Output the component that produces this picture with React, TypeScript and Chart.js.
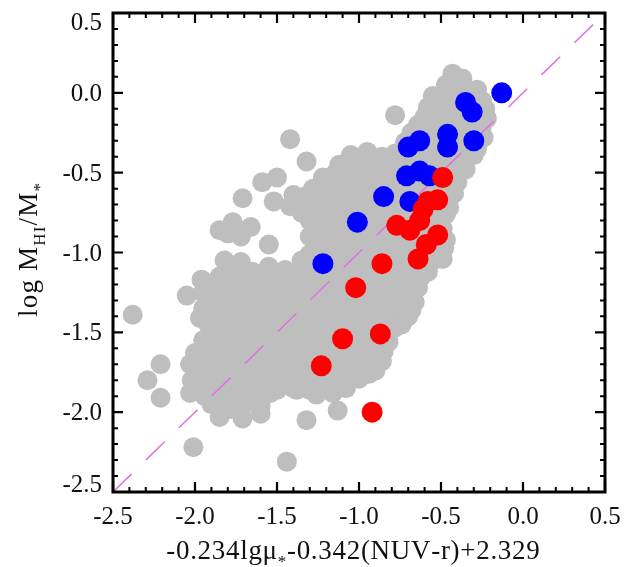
import React, { useEffect, useRef } from 'react';
import { Chart, registerables } from 'chart.js';

Chart.register(...registerables);

// Axis range and tick marks (both axes share the same range)
const AXIS_MIN = -2.5;
const AXIS_MAX = 0.5;
const MAJOR_TICKS = [-2.5, -2.0, -1.5, -1.0, -0.5, 0.0, 0.5];
const TICK_LABELS = ['-2.5', '-2.0', '-1.5', '-1.0', '-0.5', '0.0', '0.5'];
const MINOR_TICKS = [
  -2.4, -2.3, -2.2, -2.1, -1.9, -1.8, -1.7, -1.6, -1.4, -1.3, -1.2, -1.1,
  -0.9, -0.8, -0.7, -0.6, -0.4, -0.3, -0.2, -0.1, 0.1, 0.2, 0.3, 0.4,
];

// One-to-one reference line
const ONE_TO_ONE: [number, number][] = [[-2.5, -2.5], [0.5, 0.5]];

// Full comparison sample: [estimator, log MHI/M*]
const GRAY_POINTS: [number, number][] = [
  [-0.43, 0.12], [-0.37, 0.09], [-0.47, 0.05], [-0.28, 0.02],
  [-0.55, -0.02], [-0.45, 0.0], [-0.36, -0.01],
  [-0.53, -0.05], [-0.43, -0.05], [-0.33, -0.06], [-0.25, -0.05],
  [-0.78, -0.14], [-0.58, -0.09], [-0.49, -0.11], [-0.4, -0.08], [-0.3, -0.12], [-0.23, -0.1],
  [-0.6, -0.15], [-0.5, -0.16], [-0.4, -0.14], [-0.3, -0.15], [-0.22, -0.16],
  [-0.64, -0.2], [-0.54, -0.19], [-0.44, -0.21], [-0.35, -0.19], [-0.25, -0.21],
  [-0.68, -0.25], [-0.58, -0.24], [-0.48, -0.26], [-0.38, -0.25], [-0.28, -0.24],
  [-1.42, -0.29], [-0.72, -0.31], [-0.62, -0.29], [-0.52, -0.3], [-0.42, -0.31], [-0.32, -0.3], [-0.24, -0.28],
  [-0.68, -0.35], [-0.58, -0.36], [-0.48, -0.35], [-0.38, -0.34], [-0.28, -0.35],
  [-1.05, -0.39], [-0.95, -0.37], [-0.86, -0.4], [-0.78, -0.38],
  [-1.32, -0.43], [-1.12, -0.45], [-1.0, -0.43], [-0.9, -0.45], [-0.8, -0.44], [-0.7, -0.42],
  [-0.6, -0.4], [-0.5, -0.41], [-0.4, -0.4], [-0.3, -0.39],
  [-1.06, -0.46], [-0.96, -0.47], [-0.86, -0.46], [-0.76, -0.45], [-0.66, -0.46], [-0.56, -0.45],
  [-0.46, -0.46], [-0.36, -0.44],
  [-1.59, -0.56], [-1.5, -0.53], [-1.22, -0.53], [-1.14, -0.5], [-1.04, -0.52], [-0.94, -0.5],
  [-0.84, -0.52], [-0.74, -0.5], [-0.64, -0.51], [-0.54, -0.5], [-0.44, -0.49], [-0.35, -0.48],
  [-1.18, -0.56], [-1.08, -0.55], [-0.98, -0.56], [-0.88, -0.55], [-0.78, -0.56], [-0.68, -0.55],
  [-0.58, -0.56], [-0.48, -0.55], [-0.4, -0.56],
  [-1.71, -0.66], [-1.4, -0.64], [-1.28, -0.6], [-1.18, -0.62], [-1.08, -0.6], [-0.98, -0.61],
  [-0.88, -0.59], [-0.78, -0.61], [-0.68, -0.6], [-0.58, -0.62], [-0.48, -0.6], [-0.42, -0.63],
  [-1.33, -0.65], [-1.23, -0.66], [-1.13, -0.65], [-1.03, -0.66], [-0.93, -0.65], [-0.83, -0.66],
  [-0.73, -0.65], [-0.63, -0.66], [-0.53, -0.65], [-0.45, -0.66],
  [-1.52, -0.68], [-1.42, -0.71], [-1.33, -0.7], [-1.23, -0.72], [-1.13, -0.7], [-1.03, -0.71],
  [-0.93, -0.7], [-0.83, -0.72], [-0.73, -0.7], [-0.63, -0.71], [-0.53, -0.7], [-0.45, -0.72],
  [-1.35, -0.75], [-1.25, -0.76], [-1.15, -0.75], [-1.05, -0.76], [-0.95, -0.75], [-0.85, -0.76],
  [-0.75, -0.75], [-0.65, -0.76], [-0.55, -0.75], [-0.47, -0.76],
  [-1.77, -0.81], [-1.85, -0.86], [-1.66, -0.84], [-1.3, -0.8], [-1.2, -0.79], [-1.1, -0.81],
  [-1.0, -0.79], [-0.9, -0.81], [-0.8, -0.8], [-0.7, -0.79], [-0.6, -0.81], [-0.5, -0.8],
  [-1.76, -0.85], [-1.27, -0.85], [-1.17, -0.86], [-1.07, -0.85], [-0.97, -0.86], [-0.87, -0.85],
  [-0.77, -0.86], [-0.67, -0.85], [-0.57, -0.86], [-0.49, -0.85],
  [-1.8, -0.88], [-1.72, -0.9], [-1.55, -0.95], [-1.3, -0.9], [-1.22, -0.91], [-1.15, -0.89],
  [-1.05, -0.9], [-0.95, -0.91], [-0.85, -0.89], [-0.75, -0.9], [-0.65, -0.91], [-0.55, -0.89], [-0.47, -0.92],
  [-1.25, -0.95], [-1.15, -0.96], [-1.05, -0.95], [-0.95, -0.96], [-0.85, -0.95], [-0.75, -0.96],
  [-0.65, -0.95], [-0.55, -0.96], [-0.48, -0.97],
  [-1.82, -1.05], [-1.3, -1.01], [-1.2, -0.99], [-1.1, -1.0], [-1.0, -1.01], [-0.9, -0.99],
  [-0.8, -1.0], [-0.7, -1.01], [-0.6, -0.99], [-0.49, -1.04],
  [-1.72, -1.06], [-1.35, -1.05], [-1.25, -1.06], [-1.15, -1.05], [-1.05, -1.06], [-0.95, -1.05],
  [-0.85, -1.06], [-0.75, -1.05], [-0.65, -1.06], [-0.55, -1.05],
  [-1.96, -1.17], [-1.75, -1.1], [-1.65, -1.12], [-1.55, -1.09], [-1.45, -1.11], [-1.35, -1.1],
  [-1.25, -1.12], [-1.15, -1.1], [-1.05, -1.11], [-0.95, -1.09], [-0.85, -1.11], [-0.75, -1.1],
  [-0.65, -1.09], [-0.58, -1.12],
  [-1.85, -1.15], [-1.7, -1.16], [-1.6, -1.15], [-1.5, -1.16], [-1.4, -1.15], [-1.3, -1.16],
  [-1.2, -1.15], [-1.1, -1.16], [-1.0, -1.15], [-0.9, -1.16], [-0.8, -1.15], [-0.7, -1.16], [-0.62, -1.15],
  [-1.88, -1.2], [-1.8, -1.21], [-1.7, -1.19], [-1.6, -1.21], [-1.5, -1.2], [-1.4, -1.19],
  [-1.3, -1.21], [-1.2, -1.2], [-1.1, -1.19], [-0.9, -1.21], [-0.8, -1.2], [-0.7, -1.19], [-0.64, -1.22],
  [-1.95, -1.25], [-1.8, -1.26], [-1.7, -1.25], [-1.6, -1.26], [-1.5, -1.25], [-1.4, -1.26],
  [-1.3, -1.25], [-1.2, -1.26], [-1.1, -1.25], [-1.0, -1.26], [-0.9, -1.25], [-0.8, -1.26], [-0.7, -1.25],
  [-2.05, -1.27], [-1.91, -1.29], [-1.85, -1.31], [-1.75, -1.3], [-1.65, -1.29], [-1.55, -1.31],
  [-1.45, -1.3], [-1.35, -1.29], [-1.25, -1.31], [-1.15, -1.3], [-1.05, -1.29], [-0.95, -1.31],
  [-0.85, -1.3], [-0.75, -1.29], [-0.66, -1.31],
  [-1.95, -1.35], [-1.85, -1.36], [-1.75, -1.35], [-1.65, -1.36], [-1.55, -1.35], [-1.45, -1.36],
  [-1.35, -1.35], [-1.25, -1.36], [-1.15, -1.35], [-1.05, -1.36], [-0.95, -1.35], [-0.85, -1.36],
  [-0.75, -1.35], [-0.68, -1.36],
  [-2.38, -1.39], [-1.97, -1.41], [-1.9, -1.4], [-1.8, -1.39], [-1.7, -1.41], [-1.6, -1.4],
  [-1.5, -1.39], [-1.4, -1.41], [-1.3, -1.4], [-1.2, -1.39], [-1.1, -1.41], [-1.0, -1.4],
  [-0.9, -1.39], [-0.8, -1.41], [-0.7, -1.4],
  [-1.92, -1.45], [-1.82, -1.46], [-1.72, -1.45], [-1.62, -1.46], [-1.52, -1.45], [-1.42, -1.46],
  [-1.32, -1.45], [-1.22, -1.46], [-1.12, -1.45], [-1.02, -1.46], [-0.92, -1.45], [-0.82, -1.44], [-0.74, -1.45],
  [-1.88, -1.5], [-1.78, -1.51], [-1.68, -1.49], [-1.58, -1.5], [-1.48, -1.51], [-1.38, -1.49],
  [-1.28, -1.5], [-1.18, -1.51], [-1.0, -1.49], [-0.9, -1.46], [-0.78, -1.47],
  [-1.95, -1.55], [-1.85, -1.56], [-1.75, -1.55], [-1.65, -1.56], [-1.55, -1.55], [-1.45, -1.56],
  [-1.35, -1.55], [-1.25, -1.56], [-1.15, -1.55], [-1.05, -1.56], [-0.95, -1.55], [-0.82, -1.56],
  [-2.0, -1.63], [-1.92, -1.6], [-1.82, -1.61], [-1.72, -1.59], [-1.62, -1.6], [-1.52, -1.61],
  [-1.42, -1.59], [-1.32, -1.6], [-1.22, -1.61], [-1.12, -1.59], [-1.02, -1.6], [-0.92, -1.61], [-0.85, -1.62],
  [-1.98, -1.65], [-1.88, -1.66], [-1.78, -1.65], [-1.68, -1.66], [-1.58, -1.65], [-1.48, -1.66],
  [-1.38, -1.65], [-1.28, -1.66], [-1.18, -1.65], [-1.08, -1.66], [-0.98, -1.65], [-0.9, -1.66],
  [-2.21, -1.7], [-2.03, -1.7], [-1.95, -1.71], [-1.85, -1.69], [-1.75, -1.7], [-1.65, -1.71],
  [-1.55, -1.69], [-1.45, -1.7], [-1.35, -1.71], [-1.15, -1.69], [-1.05, -1.7], [-0.95, -1.71], [-0.86, -1.68],
  [-2.0, -1.75], [-1.9, -1.76], [-1.8, -1.75], [-1.7, -1.76], [-1.6, -1.75], [-1.5, -1.76],
  [-1.4, -1.75], [-1.3, -1.76], [-1.2, -1.75], [-1.1, -1.76], [-1.0, -1.75], [-0.9, -1.74],
  [-2.29, -1.8], [-2.02, -1.8], [-1.92, -1.79], [-1.82, -1.81], [-1.72, -1.8], [-1.62, -1.79],
  [-1.52, -1.81], [-1.42, -1.8], [-1.32, -1.79], [-1.22, -1.81], [-1.12, -1.8], [-1.0, -1.79], [-0.94, -1.76],
  [-2.0, -1.85], [-1.9, -1.86], [-1.8, -1.85], [-1.7, -1.86], [-1.6, -1.85], [-1.5, -1.86],
  [-1.4, -1.85], [-1.3, -1.86], [-1.2, -1.85], [-1.08, -1.85],
  [-2.21, -1.91], [-2.03, -1.88], [-1.94, -1.9], [-1.84, -1.91], [-1.74, -1.89], [-1.64, -1.9],
  [-1.54, -1.88], [-1.38, -1.86], [-1.26, -1.89], [-1.16, -1.88],
  [-1.9, -1.95], [-1.8, -1.96], [-1.7, -1.95], [-1.6, -1.96],
  [-1.85, -2.03], [-1.78, -1.98], [-1.71, -2.04], [-1.6, -2.01], [-1.32, -2.05], [-1.13, -1.99],
  [-2.01, -2.22], [-1.44, -2.31],
];

// Gas-rich subsample
const BLUE_POINTS: [number, number][] = [
  [-0.13, 0.0], [-0.35, -0.06], [-0.31, -0.12], [-0.46, -0.26], [-0.46, -0.34],
  [-0.3, -0.3], [-0.7, -0.34], [-0.63, -0.3], [-0.71, -0.52], [-0.63, -0.49],
  [-0.57, -0.52], [-0.85, -0.65], [-0.69, -0.68], [-1.01, -0.81], [-1.22, -1.07],
];

// Gas-poor subsample
const RED_POINTS: [number, number][] = [
  [-0.49, -0.53], [-0.52, -0.67], [-0.58, -0.68], [-0.61, -0.73], [-0.77, -0.83],
  [-0.69, -0.86], [-0.63, -0.8], [-0.52, -0.89], [-0.59, -0.95], [-0.64, -1.04],
  [-0.86, -1.07], [-1.02, -1.22], [-1.1, -1.54], [-0.87, -1.51], [-1.23, -1.71], [-0.92, -2.0],
];

type Part = { text: string; sub?: boolean };
const X_TITLE: Part[] = [
  { text: '-0.234lgμ' }, { text: '*', sub: true }, { text: '-0.342(NUV-r)+2.329' },
];
const Y_TITLE: Part[] = [
  { text: 'log M' }, { text: 'HI', sub: true }, { text: '/M' }, { text: '*', sub: true },
];

const SERIF = '"Liberation Serif", "Times New Roman", serif';
const INK = '#111111';

const toXY = (pts: [number, number][]) => pts.map(([x, y]) => ({ x, y }));

function drawRich(
  ctx: CanvasRenderingContext2D, parts: Part[], cx: number, baseline: number,
  size: number, subSize: number, spacing: number,
) {
  const glyphs: { ch: string; s: number; w: number; dy: number }[] = [];
  let total = 0;
  for (const p of parts) {
    const s = p.sub ? subSize : size;
    ctx.font = `${s}px ${SERIF}`;
    for (const ch of Array.from(p.text)) {
      const w = ctx.measureText(ch).width;
      glyphs.push({ ch, s, w, dy: p.sub ? size * 0.28 : 0 });
      total += w + spacing;
    }
  }
  total -= spacing;
  let x = cx - total / 2;
  ctx.textAlign = 'left';
  ctx.textBaseline = 'alphabetic';
  for (const g of glyphs) {
    ctx.font = `${g.s}px ${SERIF}`;
    ctx.fillText(g.ch, x, baseline + g.dy);
    x += g.w + spacing;
  }
}

// Boxed frame with inward ticks on all four sides, tick labels and axis titles
const framePlugin = {
  id: 'frameAxes',
  afterDatasetsDraw(chart: any) {
    const { ctx, chartArea } = chart;
    const { left, right, top, bottom } = chartArea;
    const xs = chart.scales.x;
    const ys = chart.scales.y;
    ctx.save();
    ctx.strokeStyle = '#000';
    ctx.lineCap = 'butt';

    const tick = (vals: number[], len: number, width: number) => {
      ctx.lineWidth = width;
      ctx.beginPath();
      for (const v of vals) {
        const px = xs.getPixelForValue(v);
        ctx.moveTo(px, bottom); ctx.lineTo(px, bottom - len);
        ctx.moveTo(px, top); ctx.lineTo(px, top + len);
        const py = ys.getPixelForValue(v);
        ctx.moveTo(left, py); ctx.lineTo(left + len, py);
        ctx.moveTo(right, py); ctx.lineTo(right - len, py);
      }
      ctx.stroke();
    };
    tick(MINOR_TICKS, 5, 2);
    tick(MAJOR_TICKS, 10, 2.2);

    ctx.lineWidth = 3;
    ctx.strokeRect(left, top, right - left, bottom - top);

    ctx.fillStyle = INK;
    ctx.font = `25px ${SERIF}`;
    ctx.textBaseline = 'middle';
    ctx.textAlign = 'right';
    MAJOR_TICKS.forEach((v, i) => {
      let cy = ys.getPixelForValue(v) + 1.5;
      cy = Math.min(Math.max(cy, top + 10), bottom - 6.5);
      ctx.fillText(TICK_LABELS[i], left - 11, cy);
    });
    ctx.textAlign = 'center';
    MAJOR_TICKS.forEach((v, i) => {
      ctx.fillText(TICK_LABELS[i], xs.getPixelForValue(v), 517);
    });

    drawRich(ctx, X_TITLE, 353, 559, 27, 17, 0.7);

    ctx.translate(37, 250);
    ctx.rotate(-Math.PI / 2);
    drawRich(ctx, Y_TITLE, 0, 0, 27, 17, 1.2);
    ctx.restore();
  },
};

export default function App() {
  const ref = useRef<HTMLCanvasElement>(null);

  useEffect(() => {
    const chart = new Chart(ref.current as HTMLCanvasElement, {
      type: 'scatter',
      data: {
        datasets: [
          {
            label: 'all',
            data: toXY(GRAY_POINTS),
            backgroundColor: '#bebebe',
            borderWidth: 0,
            pointRadius: 10,
            order: 4,
          },
          {
            label: '1:1',
            data: toXY(ONE_TO_ONE),
            showLine: true,
            borderColor: 'rgb(226, 110, 226)',
            borderWidth: 1.5,
            borderDash: [26, 20],
            pointRadius: 0,
            order: 3,
          },
          {
            label: 'blue',
            data: toXY(BLUE_POINTS),
            backgroundColor: '#0000ff',
            borderWidth: 0,
            pointRadius: 10.5,
            order: 2,
          },
          {
            label: 'red',
            data: toXY(RED_POINTS),
            backgroundColor: '#ff0000',
            borderWidth: 0,
            pointRadius: 10.5,
            order: 1,
          },
        ],
      } as any,
      options: {
        responsive: false,
        animation: false,
        devicePixelRatio: 1,
        events: [],
        layout: { padding: { left: 113, right: 20, top: 13, bottom: 75 } },
        plugins: { legend: { display: false }, tooltip: { enabled: false } },
        scales: {
          x: { type: 'linear', min: AXIS_MIN, max: AXIS_MAX, display: false },
          y: { type: 'linear', min: AXIS_MIN, max: AXIS_MAX, display: false },
        },
      },
      plugins: [framePlugin],
    });
    return () => chart.destroy();
  }, []);

  return (
    <div style={{ position: 'absolute', left: 0, top: 0, width: 625, height: 567, background: '#fff' }}>
      <canvas ref={ref} width={625} height={567} style={{ display: 'block' }} />
    </div>
  );
}
